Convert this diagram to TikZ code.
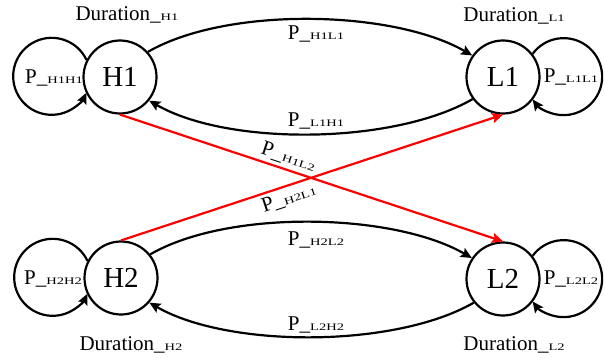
\documentclass[tikz,border=0pt]{standalone}
\usepackage{fontspec}
\setmainfont{Liberation Serif}
\usepackage{graphicx}
\usetikzlibrary{arrows.meta}
\newcommand\subx[1]{\scalebox{1.45}[1]{\fontsize{10}{10}\selectfont #1}}
\newcommand\plab[1]{P\_\subx{#1}}
\newcommand\dlab[1]{Duration\_\subx{#1}}
\tikzset{
  state/.style={circle, draw, line width=2.2pt, minimum size=73pt, inner sep=0pt, font=\fontsize{29}{29}\selectfont},
  lbl/.style={font=\fontsize{21}{21}\selectfont, inner sep=0pt, anchor=base, text=black},
  slbl/.style={font=\fontsize{21}{21}\selectfont, inner sep=0pt, text=black},
  conn/.style={line width=2.2pt, -{Stealth[length=11pt,width=10pt,inset=2pt]}},
  redconn/.style={conn, red}
}
\begin{document}
\begin{tikzpicture}[x=1pt,y=1pt]
\useasboundingbox (0,0) rectangle (605,-358);
\node[state] (H1) at (120,-77) {H1};
\node[state] (L1) at (503,-77) {L1};
\node[state] (H2) at (121,-278) {H2};
\node[state] (L2) at (503,-279) {L2};
% self loops
\draw[conn] (H1.153.3) arc[start angle=25.2, end angle=334.8, radius=38.5];
\draw[conn] (L1.38.7) arc[start angle=143.7, end angle=-143.7, radius=38.5];
\draw[conn] (H2.153.3) arc[start angle=25.2, end angle=334.8, radius=38.5];
\draw[conn] (L2.38.7) arc[start angle=143.7, end angle=-143.7, radius=38.5];
% curved transitions
\draw[conn] (H1.42) to[out=30,in=150,looseness=0.72] (L1.145);
\draw[conn] (L1.216) to[out=210,in=-30,looseness=0.72] (H1.-39);
\draw[conn] (H2.39) to[out=30,in=150,looseness=0.72] (L2.146);
\draw[conn] (L2.219) to[out=210,in=-30,looseness=0.72] (H2.-41);
% red cross transitions
\draw[redconn] (H1.south) -- node[slbl, sloped, above=3pt, pos=0.43] (lH1L2) {\plab{H1L2}} (L2.north);
\draw[redconn] (H2.north) -- node[slbl, sloped, below=3pt, pos=0.43] (lH2L1) {\plab{H2L1}} (L1.south);
% labels
\node[lbl] (lH1H1) at (54,-84) {\plab{H1H1}};
\node[lbl] (lL1L1) at (571,-83) {\plab{L1L1}};
\node[lbl] (lH2H2) at (53,-284) {\plab{H2H2}};
\node[lbl] (lL2L2) at (571,-284) {\plab{L2L2}};
\node[lbl] (lH1L1) at (316,-40) {\plab{H1L1}};
\node[lbl] (lL1H1) at (316,-127) {\plab{L1H1}};
\node[lbl] (lH2L2) at (316,-246) {\plab{H2L2}};
\node[lbl] (lL2H2) at (316,-330) {\plab{L2H2}};
\node[lbl] (dH1) at (127,-21) {\dlab{H1}};
\node[lbl] (dL1) at (514,-21.5) {\dlab{L1}};
\node[lbl] (dH2) at (131,-350) {\dlab{H2}};
\node[lbl] (dL2) at (514,-350) {\dlab{L2}};
\end{tikzpicture}
\end{document}
